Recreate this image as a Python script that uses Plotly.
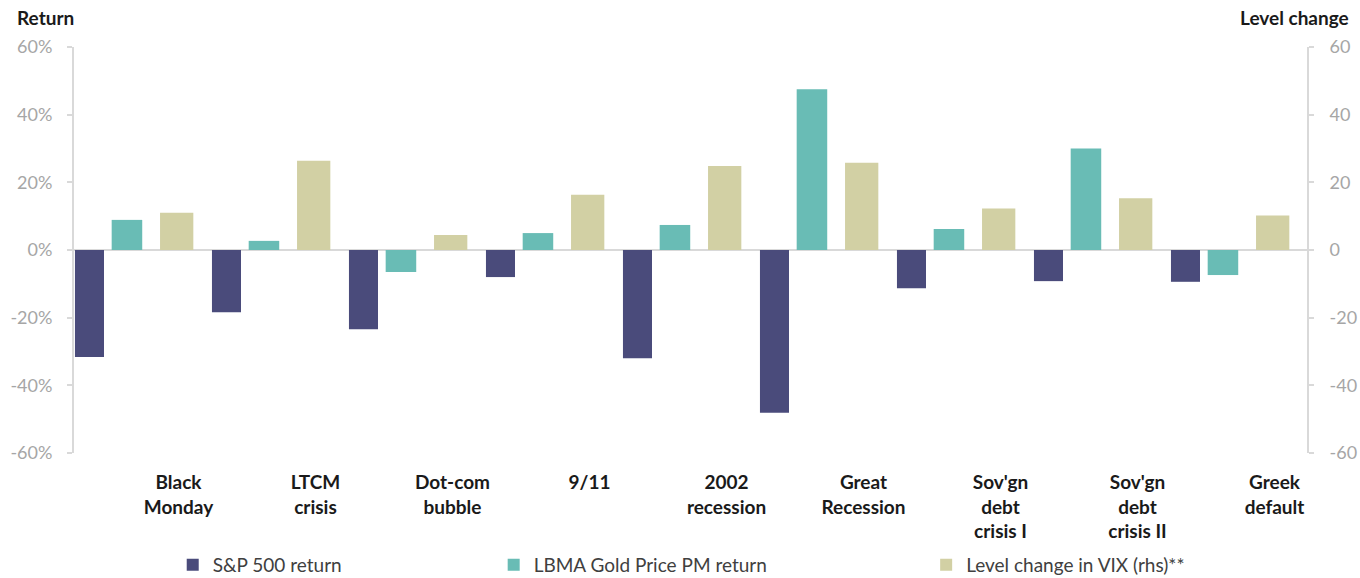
import plotly.graph_objects as go

# Crisis episodes and their market moves
CATEGORIES = ["Black Monday", "LTCM crisis", "Dot-com bubble", "9/11", "2002 recession",
              "Great Recession", "Sov'gn debt crisis I", "Sov'gn debt crisis II", "Greek default"]
TICK_LABELS = ["Black<br>Monday", "LTCM<br>crisis", "Dot-com<br>bubble", "9/11", "2002<br>recession",
               "Great<br>Recession", "Sov'gn<br>debt<br>crisis I", "Sov'gn<br>debt<br>crisis II", "Greek<br>default"]

SP500_RETURN = [-31.6, -18.4, -23.4, -8.0, -32.0, -48.1, -11.3, -9.2, -9.4]      # %
GOLD_RETURN = [8.9, 2.7, -6.5, 5.0, 7.4, 47.5, 6.2, 30.0, -7.4]                   # %
VIX_CHANGE = [11.0, 26.4, 4.4, 16.3, 24.8, 25.8, 12.3, 15.3, 10.2]                # index points

SERIES_NAMES = ["S&P 500 return", "LBMA Gold Price PM return", "Level change in VIX (rhs)**"]
COLORS = ["#4a4b7b", "#69bcb5", "#d2d0a4"]

Y_TICKS = [-60, -40, -20, 0, 20, 40, 60]
LEFT_TICK_TEXT = [f"{v}%" for v in Y_TICKS]
RIGHT_TICK_TEXT = [f"{v}" for v in Y_TICKS]

FONT = "Lato, 'Open Sans', sans-serif"
AXIS_GRAY = "#d9d9d9"
TICK_GRAY = "#a6a6a6"

fig = go.Figure()

fig.add_trace(go.Bar(x=CATEGORIES, y=SP500_RETURN, name=SERIES_NAMES[0],
                     marker=dict(color=COLORS[0], line=dict(width=0)),
                     offset=-0.493, width=0.212, legend="legend"))
fig.add_trace(go.Bar(x=CATEGORIES, y=GOLD_RETURN, name=SERIES_NAMES[1],
                     marker=dict(color=COLORS[1], line=dict(width=0)),
                     offset=-0.225, width=0.223, legend="legend2"))
fig.add_trace(go.Bar(x=CATEGORIES, y=VIX_CHANGE, name=SERIES_NAMES[2], yaxis="y2",
                     marker=dict(color=COLORS[2], line=dict(width=0)),
                     offset=0.128, width=0.243, legend="legend3"))

# Legends are placed in container coordinates so they never resize the plot area.
legend_common = dict(orientation="h", yref="container", yanchor="middle", y=0.0225,
                     xref="container", xanchor="left",
                     font=dict(family=FONT, size=19, color="#404040"),
                     bgcolor="rgba(0,0,0,0)", itemwidth=30)

# Tick labels sit well away from the axis lines, so the label axes use long
# invisible ticks while thin overlay axes draw the short visible tick marks.
label_axis = dict(
    range=[-60, 60], tickvals=Y_TICKS, showgrid=False,
    showline=False, ticks="outside", tickcolor="rgba(0,0,0,0)",
    tickfont=dict(family=FONT, size=18, color=TICK_GRAY),
)
mark_axis = dict(
    range=[-60, 60], tickvals=Y_TICKS, showgrid=False, zeroline=False,
    showline=True, linecolor=AXIS_GRAY, linewidth=2, showticklabels=False,
    ticks="outside", ticklen=5, tickcolor=AXIS_GRAY, tickwidth=1.5,
    overlaying="y",
)

fig.update_layout(
    width=1360, height=578,
    margin=dict(l=74, r=53, t=47, b=125),
    plot_bgcolor="white", paper_bgcolor="white",
    barmode="overlay",
    showlegend=True,
    legend=dict(x=0.127, **legend_common),
    legend2=dict(x=0.363, **legend_common),
    legend3=dict(x=0.681, **legend_common),
    xaxis=dict(
        type="category", categoryorder="array", categoryarray=CATEGORIES,
        tickvals=CATEGORIES, ticktext=TICK_LABELS,
        showline=False, showgrid=False, zeroline=False, ticks="",
        tickfont=dict(family=FONT, size=19, color="#1a1a1a", weight="bold"),
        ticklabelshift=36, ticklabelstandoff=16, automargin=False,
        range=[-0.5, len(CATEGORIES) - 0.5],
    ),
    yaxis=dict(ticktext=LEFT_TICK_TEXT, ticklen=17, automargin=False,
               zeroline=True, zerolinecolor=AXIS_GRAY, zerolinewidth=2, **label_axis),
    yaxis2=dict(ticktext=RIGHT_TICK_TEXT, ticklen=18, automargin=False, side="right",
                overlaying="y", zeroline=False, **label_axis),
    yaxis3=dict(side="left", **mark_axis),
    yaxis4=dict(side="right", **mark_axis),
    annotations=[
        dict(text="<b>Return</b>", xref="paper", yref="paper", x=0, y=1.0,
             xshift=-59, yshift=30, xanchor="left", yanchor="middle", showarrow=False,
             font=dict(family=FONT, size=19, color="#1a1a1a")),
        dict(text="<b>Level change</b>", xref="paper", yref="paper", x=1.0, y=1.0,
             xshift=44, yshift=30, xanchor="right", yanchor="middle", showarrow=False,
             font=dict(family=FONT, size=19, color="#1a1a1a")),
    ],
)

# Empty traces attach the tick-mark axes so they are rendered.
fig.add_trace(go.Scatter(x=[], y=[], yaxis="y3", showlegend=False, hoverinfo="skip"))
fig.add_trace(go.Scatter(x=[], y=[], yaxis="y4", showlegend=False, hoverinfo="skip"))

fig.write_html("out.html")
